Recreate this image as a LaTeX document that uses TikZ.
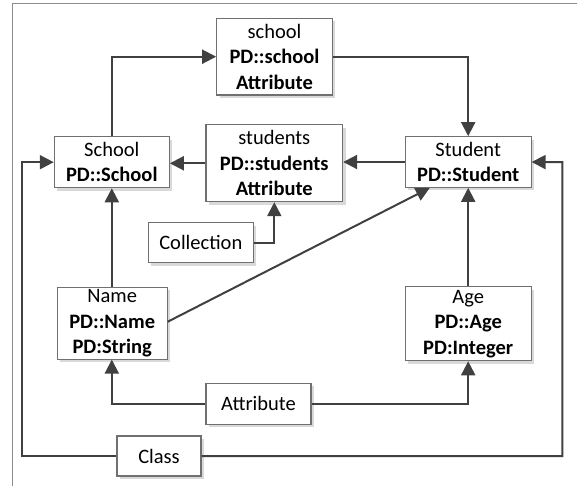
\documentclass[tikz,border=0pt]{standalone}
\usepackage{fontspec}
\setmainfont{Carlito}
\usetikzlibrary{arrows.meta,shadows,calc}
\definecolor{linec}{HTML}{404040}
\definecolor{boxc}{HTML}{707070}
\definecolor{framec}{HTML}{8C8C8C}
\begin{document}
\begin{tikzpicture}[x=1pt,y=-1pt,
  box/.style={draw=boxc, line width=1.1pt, fill=white, inner sep=0pt, align=center,
    font=\fontsize{20.5}{25.5}\selectfont,
    drop shadow={shadow xshift=3pt, shadow yshift=-3pt, fill=black!15, opacity=1}},
  conn/.style={draw=linec, line width=2pt},
  arr/.style={conn, -{Triangle[length=14pt,width=14pt]}}]
\useasboundingbox (0,0) rectangle (577,486);
\draw[framec, line width=1pt] (12.3,486) -- (12.3,4) -- (577,4);

\node[box, minimum width=115.6pt, minimum height=76.7pt] (schoolA) at (274.5,56.7)
  {school\\\textbf{PD::school}\\\textbf{Attribute}};
\node[box, minimum width=115pt, minimum height=51pt] (School) at (111.8,162.2)
  {School\\\textbf{PD::School}};
\node[box, minimum width=136.7pt, minimum height=76.7pt] (students) at (274.3,163.3)
  {students\\\textbf{PD::students}\\\textbf{Attribute}};
\node[box, minimum width=125.7pt, minimum height=50.6pt] (Student) at (468.2,162)
  {Student\\\textbf{PD::Student}};
\node[box, minimum width=105pt, minimum height=40pt] (Collection) at (200.8,242.7)
  {Collection};
\node[box, minimum width=110pt, minimum height=71.7pt] (Name) at (112.2,323.2)
  {Name\\\textbf{PD::Name}\\\textbf{PD:String}};
\node[box, minimum width=125.7pt, minimum height=74pt] (Age) at (468.2,323.7)
  {Age\\\textbf{PD::Age}\\\textbf{PD:Integer}};
\node[box, minimum width=105pt, minimum height=40.7pt] (AttrBox) at (258.5,403.7)
  {Attribute};
\node[box, minimum width=84pt, minimum height=40pt] (Class) at (159,456)
  {Class};

\coordinate (cL) at (22.3,162.2);
\coordinate (cR) at (562.3,162.2);
\coordinate (tgt) at ($(Student.south west)+(25,0)$);

\draw[arr] (School.north) |- (schoolA.west);
\draw[arr] (schoolA.east) -| (Student.north);
\draw[arr] (students.west) -- (School.east |- students.west);
\draw[arr] (Student.west) -- (students.east |- Student.west);
\draw[arr] (Collection.east) -| (students.south);
\draw[arr] (Name.north -| School.south) -- (School.south);
\draw[arr] ([yshift=1.5pt]Name.east) -- (tgt);
\draw[arr] (Age.north) -- (Student.south);
\draw[arr] (AttrBox.west) -| (Name.south -| School.south);
\draw[arr] (AttrBox.east) -| (Age.south);
\draw[arr] (Class.west) -| (cL) -- (School.west);
\draw[arr] (Class.east) -| (cR) -- (Student.east);
\end{tikzpicture}
\end{document}
